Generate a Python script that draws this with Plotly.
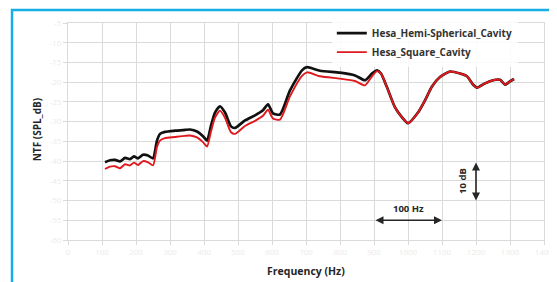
import plotly.graph_objects as go

freq_hemi = [108.8, 123.5, 138.2, 152.9, 167.6, 182.4, 194.1, 205.9, 220.6, 235.3, 250.0, 261.8,
             270.6, 285.3, 314.7, 344.1, 358.8, 379.4, 397.1, 408.8, 420.6, 432.4, 447.1, 461.8,
             479.4, 491.2, 520.6, 550.0, 573.5, 588.2, 602.9, 623.5, 652.9, 688.2, 702.9, 741.2,
             800.0, 844.1, 873.5, 894.1, 908.8, 920.6, 938.2, 961.8, 982.4, 1000.0, 1029.4, 1050.0,
             1070.6, 1094.1, 1123.5, 1152.9, 1173.5, 1191.2, 1202.9, 1226.5, 1250.0, 1270.6,
             1285.3, 1300.0, 1311.8]
ntf_hemi = [-40.3, -39.8, -39.7, -40.1, -39.2, -39.5, -38.8, -39.3, -38.4, -38.6, -39.3, -34.8,
            -33.1, -32.6, -32.3, -32.1, -32.0, -32.5, -33.7, -34.8, -31.0, -27.7, -26.1, -27.7,
            -31.2, -31.6, -29.7, -28.4, -27.1, -25.6, -27.9, -28.2, -22.1, -17.0, -16.2, -17.1,
            -17.6, -18.3, -19.5, -17.8, -17.0, -17.8, -21.3, -26.4, -28.9, -30.4, -27.7, -24.6,
            -21.1, -18.7, -17.3, -17.8, -18.5, -20.6, -21.4, -20.3, -19.5, -19.4, -20.6, -19.8,
            -19.2]

freq_square = freq_hemi
ntf_square = [-42.0, -41.4, -41.3, -41.8, -40.8, -41.1, -40.4, -41.0, -40.0, -40.3, -41.1, -36.4,
              -34.8, -34.2, -33.9, -33.6, -33.5, -34.0, -35.2, -36.3, -32.5, -29.0, -27.2, -29.0,
              -32.7, -33.1, -31.1, -29.8, -28.5, -27.0, -29.2, -29.5, -23.6, -18.4, -17.5, -18.5,
              -19.1, -19.7, -20.8, -18.5, -17.2, -17.8, -21.3, -26.4, -28.9, -30.4, -27.7, -24.6,
              -21.1, -18.7, -17.3, -17.8, -18.5, -20.6, -21.4, -20.3, -19.5, -19.4, -20.6, -19.8,
              -19.2]

x_ticks = list(range(0, 1401, 100))
y_ticks = list(range(-60, -4, 5))

FONT = "Open Sans"
DARK = "#262626"

fig = go.Figure()
fig.add_trace(go.Scatter(x=freq_hemi, y=ntf_hemi, mode="lines", name="Hesa_Hemi-Spherical_Cavity",
                         line=dict(color="#111111", width=2.7, shape="spline", smoothing=0.6)))
fig.add_trace(go.Scatter(x=freq_square, y=ntf_square, mode="lines", name="Hesa_Square_Cavity",
                         line=dict(color="#e0191e", width=1.9, shape="spline", smoothing=0.6)))

axis_common = dict(showgrid=True, gridcolor="#dadada", gridwidth=1, zeroline=False,
                   showline=True, linecolor="#dadada", ticks="outside", ticklen=4,
                   tickcolor="#dadada", automargin=False, mirror=True,
                   tickfont=dict(family=FONT, size=8, color="#ebebeb"))

fig.update_xaxes(range=[0, 1400], tickvals=x_ticks, ticktext=[str(v) for v in x_ticks], **axis_common)
fig.update_yaxes(range=[-60, -5], tickvals=y_ticks, ticktext=[str(v) for v in y_ticks], **axis_common)

# axis titles
fig.add_annotation(x=0.5, y=-0.141, xref="paper", yref="paper", xanchor="center", yanchor="middle",
                   text="<b>Frequency (Hz)</b>", showarrow=False,
                   font=dict(family=FONT, size=10.5, color=DARK))
fig.add_annotation(x=-0.065, y=0.506, xref="paper", yref="paper", xanchor="center", yanchor="middle",
                   text="<b>NTF (SPL_dB)</b>", showarrow=False, textangle=-90,
                   font=dict(family=FONT, size=10, color=DARK))

# scale arrows
fig.add_annotation(x=1100, y=-55, ax=900, ay=-55, xref="x", yref="y", axref="x", ayref="y",
                   text="", showarrow=True, arrowhead=2, arrowside="end+start", arrowsize=1,
                   arrowwidth=1.6, arrowcolor=DARK)
fig.add_annotation(x=1000, y=-52.0, xref="x", yref="y", xanchor="center", yanchor="middle",
                   text="<b>100 Hz</b>", showarrow=False,
                   font=dict(family=FONT, size=9.5, color=DARK))
fig.add_annotation(x=1200, y=-50, ax=1200, ay=-40, xref="x", yref="y", axref="x", ayref="y",
                   text="", showarrow=True, arrowhead=2, arrowside="end+start", arrowsize=1,
                   arrowwidth=1.6, arrowcolor=DARK)
fig.add_annotation(x=1162, y=-45, xref="x", yref="y", xanchor="center", yanchor="middle",
                   text="<b>10 dB</b>", showarrow=False, textangle=-90,
                   font=dict(family=FONT, size=9.5, color=DARK))

# blue frame
fig.add_shape(type="rect", xref="paper", yref="paper", x0=-0.1176, x1=1.2, y0=-0.3, y1=1.06,
              line=dict(color="#17aee8", width=2.5), fillcolor="rgba(0,0,0,0)", layer="above")

# page has an 8px body margin, so the figure is 8px smaller than the window
fig.update_layout(
    width=549, height=274,
    margin=dict(l=60, r=13, t=15, b=42.2, autoexpand=False),
    plot_bgcolor="white", paper_bgcolor="white",
    font=dict(family=FONT, size=8, color=DARK),
    legend=dict(x=0.945, y=1.02, xanchor="right", yanchor="top",
                bgcolor="rgba(255,255,255,0.85)",
                font=dict(family=FONT, size=10, color="#333", weight="bold"),
                tracegroupgap=0, itemwidth=30),
    showlegend=True,
)

fig.write_html("out.html")
